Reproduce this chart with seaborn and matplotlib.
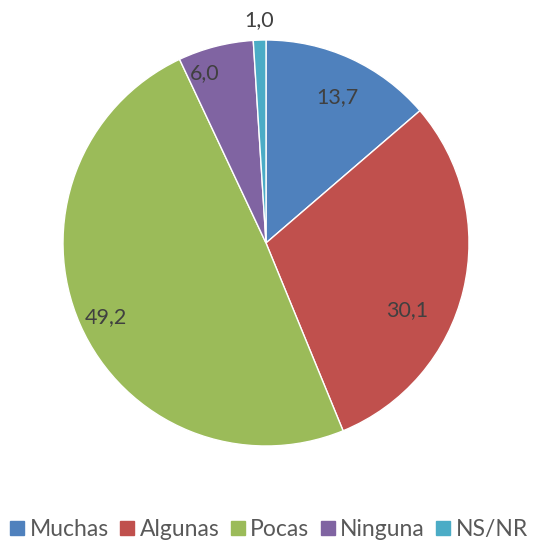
import numpy as np
import matplotlib
matplotlib.use("Agg")
import matplotlib.pyplot as plt
import seaborn as sns
from matplotlib.lines import Line2D

categories = ["Muchas", "Algunas", "Pocas", "Ninguna", "NS/NR"]
values = [13.7, 30.1, 49.2, 6.0, 1.0]
colors = ["#4F81BD", "#C0504D", "#9BBB59", "#8064A2", "#4BACC6"]
# label placement: radius (fraction of pie radius) and angular shift in degrees
label_radius = [0.80, 0.77, 0.87, 0.89, 1.10]
label_shift = [-1.5, -12.0, 1.2, 5.4, 0.0]

sns.set_style("white")
plt.rcParams["font.family"] = ["Lato", "DejaVu Sans"]

fig = plt.figure(figsize=(5.33, 5.42), dpi=100)
ax = fig.add_axes([63 / 533, 96 / 542, 406 / 533, 406 / 542])

wedges, _ = ax.pie(values, colors=colors, startangle=90, counterclock=False,
                   radius=1.0,
                   wedgeprops=dict(edgecolor="white", linewidth=1.0))
ax.set_xlim(-1, 1)
ax.set_ylim(-1, 1)
ax.set_aspect("equal")
ax.axis("off")

for w, v, r, s in zip(wedges, values, label_radius, label_shift):
    mid = np.deg2rad((w.theta1 + w.theta2) / 2 + s)
    ax.text(r * np.cos(mid), r * np.sin(mid), f"{v:.1f}".replace(".", ","),
            ha="center", va="center", fontsize=15.5, color="#404040",
            clip_on=False)

handles = [Line2D([0], [0], marker="s", linestyle="none", markersize=10,
                  markerfacecolor=c, markeredgecolor=c) for c in colors]
fig.legend(handles, categories, loc="lower center", ncol=5, frameon=False,
           bbox_to_anchor=(0.505, -0.034), fontsize=16.5, handletextpad=0.25,
           columnspacing=0.5, handlelength=0.6, labelcolor="#595959")

fig.savefig("out.png", dpi=100)
